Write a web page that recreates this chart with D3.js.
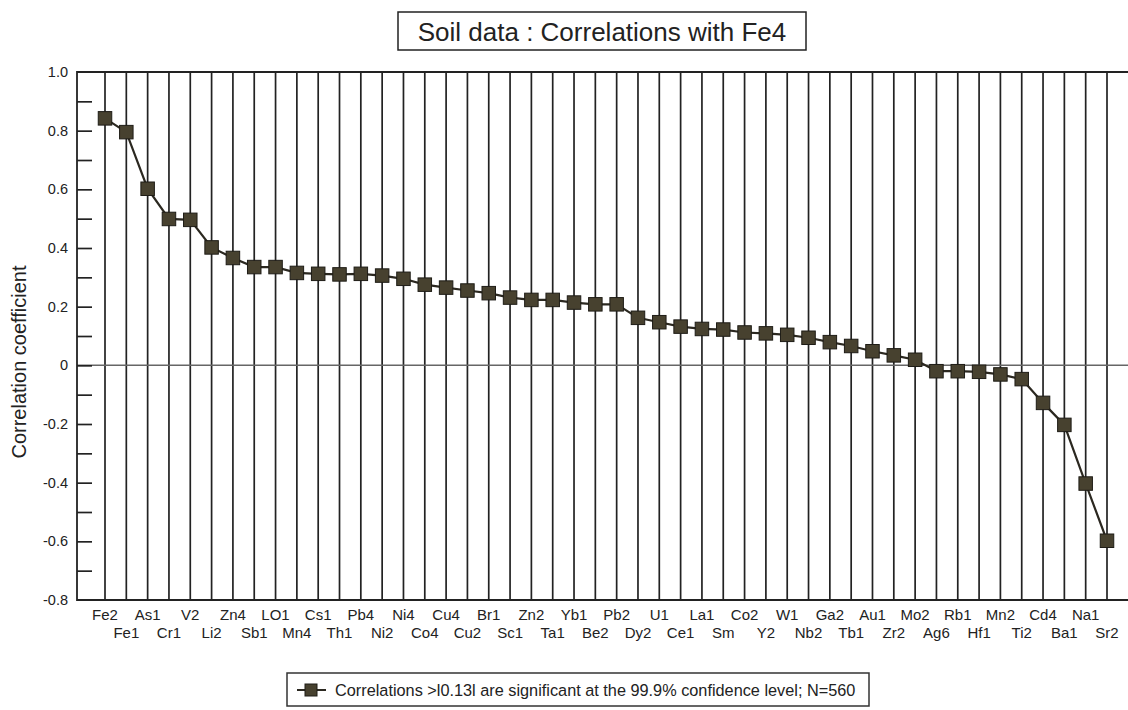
<!DOCTYPE html>
<html>
<head>
<meta charset="utf-8">
<script src="https://cdn.jsdelivr.net/npm/d3@7"></script>
<style>
  body { margin: 0; background: #fff; }
  svg { font-family: "Liberation Sans", Arial, sans-serif; }
</style>
</head>
<body>
<svg id="chart" width="1128" height="710"></svg>
<script>
// element names, in plotted order
const elements = ['Fe2', 'Fe1', 'As1', 'Cr1', 'V2', 'Li2', 'Zn4', 'Sb1', 'LO1', 'Mn4',
  'Cs1', 'Th1', 'Pb4', 'Ni2', 'Ni4', 'Co4', 'Cu4', 'Cu2', 'Br1', 'Sc1',
  'Zn2', 'Ta1', 'Yb1', 'Be2', 'Pb2', 'Dy2', 'U1', 'Ce1', 'La1', 'Sm',
  'Co2', 'Y2', 'W1', 'Nb2', 'Ga2', 'Tb1', 'Au1', 'Zr2', 'Mo2', 'Ag6',
  'Rb1', 'Hf1', 'Mn2', 'Ti2', 'Cd4', 'Ba1', 'Na1', 'Sr2']

// correlation with Fe4
const correlations = [0.842, 0.795, 0.602, 0.499, 0.496, 0.402, 0.366, 0.335, 0.335, 0.315,
  0.312, 0.31, 0.312, 0.306, 0.295, 0.275, 0.265, 0.255, 0.246, 0.231,
  0.223, 0.223, 0.214, 0.208, 0.208, 0.162, 0.147, 0.132, 0.124, 0.122,
  0.112, 0.109, 0.104, 0.094, 0.079, 0.066, 0.048, 0.034, 0.019, -0.02,
  -0.02, -0.022, -0.031, -0.047, -0.128, -0.203, -0.403, -0.598]

const yTicks = [1.0, 0.8, 0.6, 0.4, 0.2, 0, -0.2, -0.4, -0.6, -0.8]
const yMinorTicks = [0.9, 0.7, 0.5, 0.3, 0.1, -0.1, -0.3, -0.5, -0.7]

const titleText = 'Soil data : Correlations with Fe4'
const legendText = 'Correlations >l0.13l are significant at the 99.9% confidence level; N=560'

const svg = d3.select('#chart')

const plotLeft = 77
const plotRight = 1130
const plotTop = 72
const plotBottom = 600

const x = d3.scalePoint().domain(elements).range([105, 1107])
const y = d3.scaleLinear().domain([-0.8, 1.0]).range([plotBottom, plotTop])

// title box
const title = svg.append('g')
title.append('rect')
  .attr('x', 398).attr('y', 12).attr('width', 408).attr('height', 38)
  .attr('fill', '#fff').attr('stroke', '#222').attr('stroke-width', 1.5)
title.append('text')
  .attr('x', 602).attr('y', 41)
  .attr('text-anchor', 'middle')
  .attr('font-size', 26)
  .attr('fill', '#222')
  .text(titleText)

// vertical grid lines, one per element
svg.append('g')
  .selectAll('line')
  .data(elements)
  .join('line')
  .attr('x1', d => x(d)).attr('x2', d => x(d))
  .attr('y1', plotTop).attr('y2', plotBottom)
  .attr('stroke', '#222')
  .attr('stroke-width', 1.7)

// zero line
svg.append('line')
  .attr('x1', plotLeft).attr('x2', plotRight)
  .attr('y1', y(0)).attr('y2', y(0))
  .attr('stroke', '#666')
  .attr('stroke-width', 1.5)

// frame (top, left, bottom)
svg.append('path')
  .attr('d', `M${plotRight},${plotTop}H${plotLeft}V${plotBottom}H${plotRight}`)
  .attr('fill', 'none')
  .attr('stroke', '#222')
  .attr('stroke-width', 1.8)

// y axis: inward ticks, labels on the left
const yAxis = d3.axisRight(y)
  .tickValues(yTicks.concat(yMinorTicks).filter(d => d !== 1.0 && d !== -0.8))
  .tickSize(15)
  .tickFormat('')
svg.append('g')
  .attr('transform', `translate(${plotLeft},0)`)
  .call(yAxis)
  .call(g => g.select('.domain').remove())
  .call(g => g.selectAll('.tick line').attr('stroke', '#222').attr('stroke-width', 1.7))

svg.append('g')
  .selectAll('text')
  .data(yTicks)
  .join('text')
  .attr('x', 68)
  .attr('y', d => y(d) + 5)
  .attr('text-anchor', 'end')
  .attr('font-size', 14.5)
  .attr('fill', '#222')
  .text(d => d === 0 ? '0' : d.toFixed(1))

svg.append('text')
  .attr('transform', 'translate(26,362) rotate(-90)')
  .attr('text-anchor', 'middle')
  .attr('font-size', 20)
  .attr('fill', '#222')
  .text('Correlation coefficient')

// x labels in two staggered rows
svg.append('g')
  .selectAll('text')
  .data(elements)
  .join('text')
  .attr('x', d => x(d))
  .attr('y', (d, i) => i % 2 === 0 ? 620 : 638)
  .attr('text-anchor', 'middle')
  .attr('font-size', 15)
  .attr('fill', '#222')
  .text(d => d)

// line and square markers
const points = elements.map((e, i) => ({ name: e, value: correlations[i] }))

svg.append('path')
  .datum(points)
  .attr('d', d3.line().x(d => x(d.name)).y(d => y(d.value)))
  .attr('fill', 'none')
  .attr('stroke', '#2b2820')
  .attr('stroke-width', 2.2)

const size = 13.5
svg.append('g')
  .selectAll('rect')
  .data(points)
  .join('rect')
  .attr('x', d => x(d.name) - size / 2)
  .attr('y', d => y(d.value) - size / 2)
  .attr('width', size).attr('height', size)
  .attr('fill', '#47412f')
  .attr('stroke', '#1e1c16')
  .attr('stroke-width', 1)

// legend box
const legend = svg.append('g')
legend.append('rect')
  .attr('x', 287).attr('y', 673).attr('width', 582).attr('height', 33)
  .attr('fill', '#fff').attr('stroke', '#333').attr('stroke-width', 1.5)
legend.append('line')
  .attr('x1', 297).attr('x2', 326).attr('y1', 690).attr('y2', 690)
  .attr('stroke', '#2b2820').attr('stroke-width', 2)
legend.append('rect')
  .attr('x', 305).attr('y', 684).attr('width', 12).attr('height', 12)
  .attr('fill', '#47412f').attr('stroke', '#1e1c16')
legend.append('text')
  .attr('x', 335).attr('y', 696)
  .attr('font-size', 16.3)
  .attr('fill', '#222')
  .text(legendText)
</script>
</body>
</html>
